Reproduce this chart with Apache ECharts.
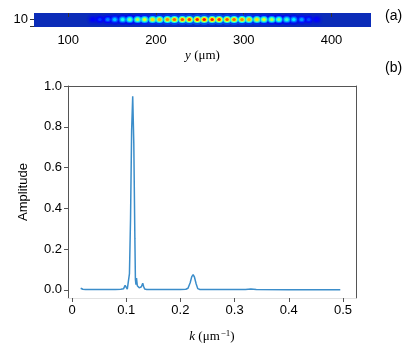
<!DOCTYPE html>
<html>
<head>
<meta charset="utf-8">
<script src="https://cdn.jsdelivr.net/npm/echarts@6/dist/echarts.min.js"></script>
<style>
  html, body { margin: 0; padding: 0; background: #fff; }
  #chart { width: 415px; height: 354px; }
</style>
</head>
<body>
<div id="chart"></div>
<script>
// (a) spot positions along y (um) and their peak intensity
const spotY = [128, 136, 145, 153, 162, 170, 179, 187, 196, 204, 213, 221, 230, 238, 247, 255,
  264, 272, 281, 289, 298, 306, 315, 323, 332, 340, 349, 357, 366, 374, 383];
const spotI = [0.12, 0.18, 0.25, 0.32, 0.4, 0.48, 0.55, 0.6, 0.66, 0.7, 0.74, 0.78, 0.8, 0.82, 0.85, 0.86,
  0.85, 0.83, 0.8, 0.78, 0.75, 0.7, 0.65, 0.6, 0.55, 0.5, 0.43, 0.36, 0.28, 0.2, 0.13];
const rowY = 10;
const topTicks = [100, 200, 300, 400];

// (b) spectrum
const kVals = [0.016, 0.018, 0.020, 0.025, 0.04, 0.06, 0.08, 0.09, 0.095, 0.098, 0.100, 0.102, 0.104,
  0.106, 0.108, 0.110, 0.112, 0.114, 0.116, 0.117, 0.118, 0.119, 0.1205, 0.122, 0.123, 0.124, 0.126,
  0.128, 0.1305, 0.132, 0.134, 0.138, 0.16, 0.20, 0.210, 0.214, 0.218, 0.221, 0.2235, 0.226, 0.229,
  0.232, 0.236, 0.26, 0.32, 0.33, 0.34, 0.40, 0.45, 0.495];
const amp = [0.008, 0.006, 0.003, 0.002, 0.002, 0.002, 0.002, 0.003, 0.005, 0.022, 0.014, 0.004, 0.010,
  0.08, 0.35, 0.78, 0.95, 0.72, 0.25, 0.05, 0.025, 0.058, 0.02, 0.012, 0.025, 0.010, 0.006,
  0.015, 0.032, 0.018, 0.004, 0.002, 0.002, 0.002, 0.003, 0.008, 0.035, 0.065, 0.075, 0.062, 0.03,
  0.006, 0.002, 0.002, 0.002, 0.004, 0.002, 0.001, 0.001, 0.001];
const kTicks = [0, 0.1, 0.2, 0.3, 0.4, 0.5];
const ampTicks = [0, 0.2, 0.4, 0.6, 0.8, 1.0];

const stripBg = "#0b2cb8";
// jet, with the bottom end set to the strip background so faint spots fade out
const jet = [stripBg, "#0000ff", "#007fff", "#00ffff", "#7fff7f", "#ffff00", "#ff7f00", "#ff0000", "#7f0000"];

const spots = spotY.map((y, i) => [y, rowY, spotI[i]]);
const spectrum = kVals.map((k, i) => [k, amp[i]]);

const tickFont = { color: "#000", fontSize: 13, fontFamily: "Liberation Sans" };
const dark = "#555";

// halo layers: same data, colour scale stretched so outer rings are dimmer
const layers = [
  { size: [12, 11], max: 4, opacity: 0.7 },
  { size: [8, 7], max: 2, opacity: 1 },
  { size: [6, 5], max: 1.35, opacity: 1 },
  { size: [3.5, 3], max: 1, opacity: 1 },
];

const chart = echarts.init(document.getElementById("chart"));

chart.setOption({
  animation: false,
  textStyle: { fontFamily: "Liberation Sans" },
  grid: [
    { left: 34, right: 44, top: 13, height: 14, show: true, backgroundColor: stripBg, borderWidth: 0 },
    { left: 68, right: 59, top: 86, bottom: 56 },
  ],
  xAxis: [
    {
      gridIndex: 0, type: "value", min: 61, max: 445,
      axisLine: { show: false },
      axisTick: { show: true, length: 4, lineStyle: { color: "#333" }, customValues: topTicks },
      axisLabel: { ...tickFont, margin: 7, customValues: topTicks },
      splitLine: { show: false },
      name: "{i|y} (μm)",
      nameLocation: "middle",
      nameGap: 22,
      nameTextStyle: {
        color: "#000", fontSize: 13, fontFamily: "Liberation Serif",
        rich: { i: { fontStyle: "italic", fontSize: 13, fontFamily: "Liberation Serif" } },
      },
    },
    {
      gridIndex: 1, type: "value", min: -0.0074, max: 0.524,
      axisLine: { show: true, onZero: false, lineStyle: { color: "#e2e2e2" } },
      axisTick: { show: true, length: 4, lineStyle: { color: dark }, customValues: kTicks },
      axisLabel: { ...tickFont, margin: 6, customValues: kTicks },
      splitLine: { show: false },
      name: "{i|k} (μm{s|−1})",
      nameLocation: "middle",
      nameGap: 31,
      nameTextStyle: {
        color: "#000", fontSize: 13, fontFamily: "Liberation Serif",
        rich: {
          i: { fontStyle: "italic", fontSize: 13, fontFamily: "Liberation Serif" },
          s: { fontSize: 9, fontFamily: "Liberation Serif", verticalAlign: "bottom", padding: [0, 0, 7, 1] },
        },
      },
    },
    {
      gridIndex: 1, type: "value", position: "top", min: -0.0074, max: 0.524,
      axisLine: { show: true, onZero: false, lineStyle: { color: dark } },
      axisTick: { show: false }, axisLabel: { show: false }, splitLine: { show: false },
    },
  ],
  yAxis: [
    {
      gridIndex: 0, type: "value", min: 0, max: 21.5, inverse: true,
      axisLine: { show: false },
      axisTick: { show: true, length: 4, lineStyle: { color: "#333" }, customValues: [10, 20] },
      axisLabel: { ...tickFont, margin: 6, customValues: [10] },
      splitLine: { show: false },
    },
    {
      gridIndex: 1, type: "value", min: -0.04, max: 1.0,
      axisLine: { show: true, onZero: false, lineStyle: { color: dark } },
      axisTick: { show: true, length: 4, lineStyle: { color: dark }, customValues: ampTicks },
      axisLabel: { ...tickFont, margin: 6, customValues: ampTicks, formatter: (v) => v.toFixed(1) },
      splitLine: { show: false },
      name: "Amplitude",
      nameLocation: "middle",
      nameGap: 38,
      nameTextStyle: { color: "#000", fontSize: 13, fontFamily: "Liberation Sans" },
    },
    {
      gridIndex: 1, type: "value", position: "right", min: -0.04, max: 1.0,
      axisLine: { show: true, onZero: false, lineStyle: { color: dark } },
      axisTick: { show: false }, axisLabel: { show: false }, splitLine: { show: false },
    },
  ],
  visualMap: layers.map((l, i) => ({
    show: false, type: "continuous", seriesIndex: i, dimension: 2,
    min: 0, max: l.max, inRange: { color: jet },
  })),
  series: [
    ...layers.map((l) => ({
      type: "scatter",
      xAxisIndex: 0, yAxisIndex: 0,
      symbol: "circle",
      symbolSize: l.size,
      itemStyle: { opacity: l.opacity },
      silent: true,
      data: spots,
    })),
    {
      type: "line",
      xAxisIndex: 1, yAxisIndex: 1,
      showSymbol: false,
      lineStyle: { color: "#3b8dca", width: 1.5 },
      data: spectrum,
    },
  ],
  graphic: [
    { type: "text", left: 385, top: 9, style: { text: "(a)", fontSize: 14, fontFamily: "Liberation Sans", fill: "#000" } },
    { type: "text", left: 385, top: 61, style: { text: "(b)", fontSize: 14, fontFamily: "Liberation Sans", fill: "#000" } },
  ],
});
</script>
</body>
</html>
